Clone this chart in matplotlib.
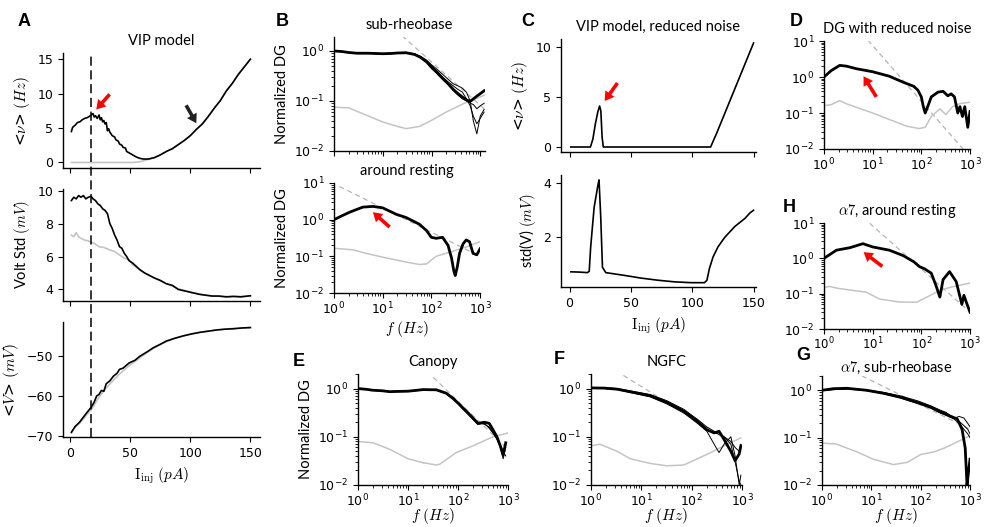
import matplotlib
matplotlib.use("Agg")
import matplotlib.pyplot as plt
import matplotlib.transforms as mtransforms
from matplotlib.lines import Line2D

plt.rcParams["font.family"] = ["DejaVu Sans"]
plt.rcParams["mathtext.fontset"] = "cm"
plt.rcParams["font.size"] = 9
plt.rcParams["axes.linewidth"] = 1.0
plt.rcParams["xtick.labelsize"] = 9
plt.rcParams["ytick.labelsize"] = 9

TEXT_FONT = ["Lato", "DejaVu Sans"]

# ---------------- Panel A: VIP model, full noise ----------------
a_rate_i = [1, 2, 4, 6, 8, 10, 12, 14, 16, 17.5, 19, 20, 21, 22.5, 24, 25, 26, 27, 28, 29, 30, 31,
            32, 33, 35, 37, 38, 40, 41, 43, 44, 46, 47, 49, 50, 52, 55, 58, 61, 65, 70, 75, 80,
            85, 90, 95, 100, 105, 110, 115, 120, 125, 130, 135, 140, 145, 150]
a_rate_full = [4.5, 5.1, 5.4, 5.8, 5.9, 6.2, 6.4, 6.5, 6.7, 6.9, 7.1, 6.6, 6.8, 6.4, 6.9, 6.2, 6.5,
               5.9, 6.1, 5.6, 5.8, 4.6, 4.9, 4.4, 3.9, 3.7, 3.3, 3.1, 2.7, 2.5, 2.2, 2.1, 1.6, 1.4,
               1.3, 1.1, 0.8, 0.6, 0.5, 0.5, 0.7, 1.1, 1.6, 2.0, 2.6, 3.2, 3.9, 4.8, 5.6, 6.7,
               7.9, 9.0, 10.4, 11.5, 12.8, 13.9, 15.0]
a_rate_i_q = [1, 20, 40, 52, 58, 62, 66, 70, 75, 80, 85, 90, 95, 100, 105, 110, 115, 120, 125, 130,
              135, 140, 145, 150]
a_rate_quiet = [0.0, 0.0, 0.0, 0.0, 0.1, 0.3, 0.5, 0.7, 1.1, 1.6, 2.0, 2.6, 3.2, 3.9, 4.8, 5.6, 6.7,
                7.9, 9.0, 10.4, 11.5, 12.8, 13.9, 15.0]

a_std_i = [1, 3, 5, 7, 9, 11, 13, 15, 17.5, 19, 21, 23, 25, 27, 29, 31, 33, 35, 37, 39, 41, 43, 45,
           47, 49, 52, 55, 58, 62, 66, 70, 75, 80, 85, 90, 96, 102, 108, 113, 118, 124, 130, 136,
           142, 150]
a_std_full = [9.4, 9.6, 9.5, 9.7, 9.6, 9.7, 9.5, 9.6, 9.65, 9.5, 9.4, 9.2, 9.1, 8.9, 8.8, 8.6, 8.0,
              7.7, 7.3, 7.0, 6.6, 6.5, 6.2, 6.0, 5.75, 5.6, 5.4, 5.2, 5.0, 4.85, 4.7, 4.55, 4.35,
              4.25, 4.0, 3.9, 3.8, 3.7, 3.65, 3.6, 3.6, 3.55, 3.58, 3.55, 3.62]
a_std_i_q = [1, 3, 5, 7, 9, 12, 15, 17.5, 20, 24, 28, 33, 37, 41, 45, 49, 52, 56, 62, 70, 80, 90,
             102, 113, 124, 136, 150]
a_std_quiet = [7.3, 7.2, 7.45, 7.2, 7.1, 7.0, 6.95, 6.85, 6.8, 6.6, 6.55, 6.4, 6.3, 6.1, 5.9, 5.8,
               5.5, 5.3, 5.0, 4.7, 4.35, 4.05, 3.8, 3.65, 3.58, 3.57, 3.6]

a_v_i = [1, 4, 8, 13, 17.5, 20, 22, 24, 26, 28, 30, 33, 36, 39, 41, 44, 49, 54, 58, 64, 69, 75, 80,
         87, 94, 101, 108, 115, 122, 129, 136, 143, 150]
a_v_full = [-69.1, -67.7, -66.5, -64.5, -62.8, -61.5, -60.0, -59.6, -58.6, -58.8, -56.9, -56.2,
            -55.0, -54.3, -53.3, -53.0, -51.7, -51.0, -50.0, -48.9, -47.9, -47.0, -46.2, -45.5,
            -44.9, -44.4, -44.0, -43.7, -43.4, -43.2, -43.1, -42.9, -42.8]
a_v_quiet = [-69.3, -67.9, -66.8, -65.0, -63.4, -62.3, -61.2, -60.3, -59.5, -58.7, -58.0, -57.0,
             -56.0, -55.1, -54.5, -53.7, -52.4, -51.3, -50.4, -49.1, -48.1, -47.1, -46.3, -45.5,
             -44.9, -44.4, -44.0, -43.7, -43.4, -43.2, -43.0, -42.9, -42.8]

a_marker_i = 17.5

# ---------------- Panel C: VIP model, reduced noise ----------------
c_rate_i = [1, 10, 17, 19, 21, 23, 24.5, 25.5, 26.5, 27.5, 30, 60, 100, 115, 120, 125, 130, 135,
            140, 145, 150]
c_rate = [0.0, 0.0, 0.0, 0.8, 2.3, 3.5, 4.1, 3.6, 1.0, 0.0, 0.0, 0.0, 0.0, 0.0, 1.4, 2.9, 4.4,
          5.9, 7.4, 8.9, 10.4]
c_std_i = [1, 8, 14.5, 16, 17.2, 20, 23, 24, 25.4, 26.8, 29.5, 44.5, 58, 72, 85.5, 99, 110, 112,
           114, 117, 121, 126.5, 134.7, 143, 147, 150]
c_std = [0.73, 0.72, 0.7, 0.75, 1.65, 3.1, 3.9, 4.12, 2.75, 0.9, 0.7, 0.6, 0.5, 0.42, 0.36, 0.33,
         0.33, 0.42, 0.85, 1.28, 1.65, 2.0, 2.4, 2.7, 2.9, 3.0]

# ---------------- Panel B1: sub-rheobase ----------------
b1_f = [1, 1.5, 2, 3, 5, 7, 10, 15, 20, 30, 45, 60, 80, 100, 130, 170, 220, 280, 350, 430, 520,
        620, 720, 850, 1000, 1200]
b1_thick = [1.0, 0.97, 0.93, 0.9, 0.9, 0.89, 0.88, 0.89, 0.91, 0.92, 0.85, 0.74, 0.6, 0.47, 0.37,
            0.28, 0.22, 0.17, 0.14, 0.12, 0.105, 0.098, 0.11, 0.125, 0.14, 0.16]
b1_thin1 = [1.0, 0.97, 0.94, 0.91, 0.9, 0.9, 0.89, 0.9, 0.92, 0.94, 0.88, 0.78, 0.65, 0.53, 0.43,
            0.34, 0.27, 0.22, 0.2, 0.18, 0.15, 0.1, 0.04, 0.022, 0.05, 0.068]
b1_thin2 = [1.0, 0.96, 0.93, 0.9, 0.89, 0.89, 0.88, 0.89, 0.91, 0.92, 0.86, 0.76, 0.62, 0.5, 0.4,
            0.3, 0.24, 0.2, 0.17, 0.15, 0.11, 0.08, 0.05, 0.035, 0.045, 0.06]
b1_thin3 = [1.0, 0.97, 0.93, 0.9, 0.9, 0.88, 0.88, 0.89, 0.9, 0.91, 0.84, 0.73, 0.58, 0.45, 0.35,
            0.27, 0.21, 0.16, 0.13, 0.11, 0.1, 0.09, 0.085, 0.07, 0.08, 0.09]
b1_gray_f = [1, 2, 4.6, 10, 20, 30, 57, 100, 200, 450, 1200]
b1_gray = [0.075, 0.073, 0.052, 0.038, 0.031, 0.028, 0.031, 0.041, 0.06, 0.088, 0.13]
b1_dash_f = [25, 1200]
b1_dash = [2.0, 0.07]

# ---------------- Panel B2: around resting ----------------
b2_f = [1, 1.5, 2.1, 3.9, 6.3, 10, 19, 30, 57, 80, 100, 125, 170, 220, 260, 290, 310, 340, 380,
        450, 520, 610, 720, 860, 1000]
b2_thick = [1.0, 1.3, 1.6, 2.2, 2.3, 2.1, 1.4, 1.15, 0.75, 0.5, 0.33, 0.31, 0.33, 0.2, 0.09, 0.04,
            0.03, 0.05, 0.12, 0.22, 0.28, 0.25, 0.12, 0.11, 0.16]
b2_gray_f = [1, 2.5, 4.6, 10, 30, 57, 80, 125, 240, 520, 1000]
b2_gray = [0.166, 0.15, 0.12, 0.095, 0.07, 0.06, 0.062, 0.1, 0.13, 0.18, 0.25]
b2_dash_f = [1.3, 1000]
b2_dash = [8.0, 0.1]

# ---------------- Panel D: DG with reduced noise ----------------
d_f = [1, 1.4, 2.1, 2.9, 4.6, 10, 22, 42, 70, 85, 100, 110, 120, 135, 160, 220, 280, 350, 410,
       480, 560, 620, 700, 780, 900, 1000]
d_thick = [1.0, 1.5, 2.1, 2.0, 1.7, 1.4, 1.05, 0.72, 0.55, 0.43, 0.28, 0.15, 0.1, 0.15, 0.28,
           0.38, 0.4, 0.3, 0.34, 0.28, 0.1, 0.15, 0.08, 0.15, 0.04, 0.11]
d_gray_f = [1, 1.4, 2.1, 2.9, 10, 22, 50, 90, 120, 160, 240, 320, 440, 600, 1000]
d_gray = [0.16, 0.17, 0.22, 0.18, 0.1, 0.066, 0.043, 0.037, 0.04, 0.08, 0.13, 0.09, 0.15, 0.18,
          0.2]
d_dash_f = [8, 720]
d_dash = [10.5, 0.01]

# ---------------- Panel H: alpha7, around resting ----------------
h_f = [1, 1.8, 3.4, 6.3, 10, 22, 42, 70, 92, 118, 160, 200, 240, 280, 380, 520, 680, 750, 830,
       1000]
h_thick = [1.0, 1.7, 2.0, 2.6, 2.1, 1.7, 1.2, 0.8, 0.58, 0.5, 0.38, 0.17, 0.08, 0.25, 0.42, 0.22,
           0.05, 0.09, 0.06, 0.03]
h_gray_f = [1, 1.3, 2, 7.4, 14, 36, 80, 130, 230, 380, 1000]
h_gray = [0.15, 0.16, 0.14, 0.11, 0.07, 0.058, 0.057, 0.08, 0.12, 0.15, 0.2]
h_dash_f = [8.7, 1000]
h_dash = [9.8, 0.03]

# ---------------- Panel E: Canopy ----------------
e_f = [1, 1.5, 2, 3, 4.3, 6, 10, 15, 20, 37, 58, 80, 100, 130, 170, 250, 340, 420, 500, 600, 700,
       800, 900]
e_thick = [1.0, 0.96, 0.92, 0.9, 0.86, 0.87, 0.88, 0.92, 0.95, 0.94, 0.8, 0.62, 0.5, 0.38, 0.29,
           0.19, 0.2, 0.19, 0.14, 0.1, 0.065, 0.042, 0.075]
e_thin1 = [1.0, 0.95, 0.92, 0.89, 0.87, 0.88, 0.89, 0.92, 0.94, 0.93, 0.82, 0.65, 0.52, 0.4, 0.3,
           0.2, 0.18, 0.16, 0.12, 0.09, 0.07, 0.05, 0.04]
e_thin2 = [1.0, 0.96, 0.93, 0.9, 0.87, 0.86, 0.87, 0.9, 0.93, 0.92, 0.78, 0.6, 0.48, 0.36, 0.27,
           0.18, 0.19, 0.15, 0.12, 0.09, 0.06, 0.035, 0.06]
e_gray_f = [1, 2, 4.3, 10, 20, 37, 43, 92, 200, 500, 1000]
e_gray = [0.08, 0.075, 0.055, 0.035, 0.029, 0.026, 0.027, 0.047, 0.065, 0.1, 0.12]
e_dash_f = [32, 1000]
e_dash = [1.7, 0.055]

# ---------------- Panel F: NGFC ----------------
f_f = [1, 1.8, 3.3, 7, 15, 32, 70, 130, 200, 280, 350, 440, 600, 730, 880, 950]
f_thick = [1.03, 1.02, 0.97, 0.83, 0.71, 0.52, 0.34, 0.21, 0.14, 0.12, 0.13, 0.088, 0.05, 0.032,
           0.044, 0.065]
f_thin1 = [1.0, 1.0, 0.95, 0.8, 0.67, 0.48, 0.31, 0.19, 0.13, 0.07, 0.047, 0.07, 0.1, 0.04, 0.01,
           0.016]
f_thin2 = [1.05, 1.04, 1.0, 0.87, 0.75, 0.56, 0.37, 0.23, 0.16, 0.13, 0.11, 0.1, 0.07, 0.03, 0.012,
           0.01]
f_thin3 = [1.02, 1.01, 0.96, 0.82, 0.7, 0.5, 0.33, 0.2, 0.14, 0.12, 0.12, 0.1, 0.08, 0.06, 0.05,
           0.07]
f_gray_f = [1, 1.5, 3.3, 6, 15, 32, 70, 130, 240, 440, 950]
f_gray = [0.065, 0.07, 0.05, 0.035, 0.028, 0.025, 0.026, 0.035, 0.047, 0.065, 0.095]
f_dash_f = [4.4, 400]
f_dash = [1.87, 0.1]

# ---------------- Panel G: alpha7, sub-rheobase ----------------
g_f = [1, 1.7, 3.2, 8, 18, 39, 86, 160, 250, 400, 550, 690, 800, 870, 940, 1000]
g_thick = [1.0, 1.08, 1.1, 1.0, 0.86, 0.71, 0.55, 0.44, 0.35, 0.28, 0.25, 0.15, 0.06, 0.01, 0.02,
           0.035]
g_thin_f = [1, 3.2, 8, 18, 39, 86, 160, 250, 330, 450, 600, 750, 900, 1000]
g_thin1 = [1.0, 1.08, 1.02, 0.9, 0.76, 0.6, 0.47, 0.38, 0.34, 0.25, 0.28, 0.26, 0.2, 0.17]
g_thin2 = [1.0, 1.1, 1.0, 0.87, 0.72, 0.57, 0.45, 0.37, 0.33, 0.28, 0.22, 0.18, 0.15, 0.12]
g_thin3 = [1.0, 1.06, 0.98, 0.84, 0.69, 0.53, 0.42, 0.33, 0.3, 0.26, 0.2, 0.15, 0.12, 0.1]
g_gray_f = [1, 1.9, 5.1, 11, 28, 53, 100, 185, 300, 470, 1000]
g_gray = [0.076, 0.074, 0.05, 0.035, 0.027, 0.03, 0.044, 0.05, 0.06, 0.075, 0.11]
g_dash_f = [6.5, 1000]
g_dash = [2.0, 0.15]

FIG_W, FIG_H = 984, 527
fig = plt.figure(figsize=(FIG_W / 100, FIG_H / 100), dpi=100)


def add_ax(left, top, right, bottom):
    """Add axes from a pixel box (origin top-left)."""
    ax = fig.add_axes([left / FIG_W, 1 - bottom / FIG_H, (right - left) / FIG_W,
                       (bottom - top) / FIG_H])
    ax.spines["top"].set_visible(False)
    ax.spines["right"].set_visible(False)
    return ax


def panel_letter(x, y, s):
    fig.text(x / FIG_W, 1 - y / FIG_H, s, fontsize=13, fontweight="bold",
             family=["Liberation Sans", "DejaVu Sans"], va="center", ha="left")


def title(ax, s, pad=6):
    ax.set_title(s, fontsize=10.5, family=TEXT_FONT, pad=pad)


def arrow(ax, tip, tail, color="red"):
    ax.annotate("", xy=tip, xytext=tail,
                arrowprops=dict(facecolor=color, edgecolor="none", width=2.6,
                                headwidth=8, headlength=6.5, shrink=0))


GRAY = "#c4c4c4"
DASH = "#b5b5b5"


def dg_panel(ax, f, thick, gray_f, gray, dash_f, dash, thins=(), ylim=(0.01, 2.0),
             xlim=(1, 1000)):
    ax.set_xscale("log")
    ax.set_yscale("log")
    ax.plot(dash_f, dash, color=DASH, lw=0.9, ls=(0, (4, 3)))
    ax.plot(gray_f, gray, color=GRAY, lw=1.1)
    for tf, ty in thins:
        ax.plot(tf, ty, color="black", lw=0.7)
    ax.plot(f, thick, color="black", lw=2.0)
    ax.set_xlim(*xlim)
    ax.set_ylim(*ylim)
    ax.tick_params(which="minor", length=2)
    ax.tick_params(axis="x", pad=2)


# ---------------- Panel A ----------------
axA1 = add_ax(63, 53, 260, 168)
axA2 = add_ax(63, 189, 260, 301)
axA3 = add_ax(63, 322, 260, 437)

axA1.plot(a_rate_i_q, a_rate_quiet, color=GRAY, lw=1.2)
axA1.plot(a_rate_i, a_rate_full, color="black", lw=1.2)
axA1.set_ylim(-0.8, 15.9)
axA1.set_yticks([0, 5, 10, 15])
axA1.set_ylabel(r"<$\nu$> $(Hz)$", fontsize=11)
arrow(axA1, (21.7, 7.7), (32.8, 9.9), "red")
arrow(axA1, (105, 5.7), (96.5, 8.3), "#222222")

axA2.plot(a_std_i_q, a_std_quiet, color=GRAY, lw=1.2)
axA2.plot(a_std_i, a_std_full, color="black", lw=1.2)
axA2.set_ylim(3.3, 10.1)
axA2.set_yticks([4, 6, 8, 10])
axA2.set_ylabel(r"Volt Std $(mV)$", fontsize=10.5, family=TEXT_FONT)

axA3.plot(a_v_i, a_v_quiet, color=GRAY, lw=1.2)
axA3.plot(a_v_i, a_v_full, color="black", lw=1.2)
axA3.set_ylim(-70.3, -41.4)
axA3.set_yticks([-70, -60, -50])
axA3.set_ylabel(r"<$V$> $(mV)$", fontsize=11)
axA3.set_xlabel(r"$\mathrm{I_{inj}}\ (pA)$", fontsize=11)

for ax in (axA1, axA2, axA3):
    ax.set_xlim(-6, 158)
    ax.set_xticks([0, 50, 100, 150])
for ax in (axA1, axA2):
    ax.tick_params(axis="x", labelbottom=False)
title(axA1, "VIP model")

trans = mtransforms.blended_transform_factory(axA3.transData, fig.transFigure)
y_low = axA3.get_position().y0
y_high = axA1.get_position().y1
fig.add_artist(Line2D([a_marker_i, a_marker_i], [y_low, y_high], transform=trans,
                      color="black", lw=1.1, ls=(0, (6, 3))))

# ---------------- Panel B ----------------
axB1 = add_ax(334, 37, 485, 151)
dg_panel(axB1, b1_f, b1_thick, b1_gray_f, b1_gray, b1_dash_f, b1_dash,
         thins=[(b1_f, b1_thin1), (b1_f, b1_thin2), (b1_f, b1_thin3)],
         ylim=(0.01, 1.9), xlim=(1, 1250))
axB1.tick_params(axis="x", which="both", labelbottom=False)
axB1.set_ylabel("Normalized DG", fontsize=10.5, family=TEXT_FONT)
title(axB1, "sub-rheobase")

axB2 = add_ax(334, 183, 480, 293)
dg_panel(axB2, b2_f, b2_thick, b2_gray_f, b2_gray, b2_dash_f, b2_dash, ylim=(0.01, 10))
axB2.set_ylabel("Normalized DG", fontsize=10.5, family=TEXT_FONT)
axB2.set_xlabel(r"$f\ (Hz)$", fontsize=11, labelpad=1)
title(axB2, "around resting")
arrow(axB2, (6.3, 1.6), (13.9, 0.63))

# ---------------- Panel C ----------------
axC1 = add_ax(561, 39, 756, 152)
axC1.plot(c_rate_i, c_rate, color="black", lw=1.2)
axC1.set_ylim(-0.5, 10.8)
axC1.set_yticks([0, 5, 10])
axC1.set_ylabel(r"<$\nu$> $(Hz)$", fontsize=11)
arrow(axC1, (28.6, 4.6), (39, 6.4))
title(axC1, "VIP model, reduced noise")

axC2 = add_ax(561, 175, 756, 287)
axC2.plot(c_std_i, c_std, color="black", lw=1.2)
axC2.set_ylim(0.17, 4.3)
axC2.set_yticks([2, 4])
axC2.set_ylabel(r"std(V) $(mV)$", fontsize=10.5, family=TEXT_FONT)
axC2.set_xlabel(r"$\mathrm{I_{inj}}\ (pA)$", fontsize=11)
for ax in (axC1, axC2):
    ax.set_xlim(-7, 152)
    ax.set_xticks([0, 50, 100, 150])
axC1.tick_params(axis="x", labelbottom=False)

# ---------------- Panel D ----------------
axD = add_ax(824, 41, 970, 149)
dg_panel(axD, d_f, d_thick, d_gray_f, d_gray, d_dash_f, d_dash, ylim=(0.01, 10))
title(axD, "DG with reduced noise")
arrow(axD, (6.5, 1.05), (11.9, 0.28))

# ---------------- Panel H ----------------
axH = add_ax(824, 223, 970, 329)
dg_panel(axH, h_f, h_thick, h_gray_f, h_gray, h_dash_f, h_dash, ylim=(0.01, 10))
axH.tick_params(axis="x", pad=1, labelsize=8.5)
title(axH, r"$\alpha7$, around resting")
arrow(axH, (6.5, 1.5), (15.8, 0.59))

# ---------------- Panels E, F, G ----------------
axE = add_ax(358, 374, 508, 485)
dg_panel(axE, e_f, e_thick, e_gray_f, e_gray, e_dash_f, e_dash,
         thins=[(e_f, e_thin1), (e_f, e_thin2)])
axE.set_ylabel("Normalized DG", fontsize=10.5, family=TEXT_FONT)
title(axE, "Canopy")

axF = add_ax(591, 374, 742, 485)
dg_panel(axF, f_f, f_thick, f_gray_f, f_gray, f_dash_f, f_dash,
         thins=[(f_f, f_thin1), (f_f, f_thin2), (f_f, f_thin3)])
title(axF, "NGFC")

axG = add_ax(822, 376, 970, 485)
dg_panel(axG, g_f, g_thick, g_gray_f, g_gray, g_dash_f, g_dash,
         thins=[(g_thin_f, g_thin1), (g_thin_f, g_thin2), (g_thin_f, g_thin3)])
title(axG, r"$\alpha7$, sub-rheobase", pad=3)

for ax in (axE, axF, axG):
    ax.set_xlabel(r"$f\ (Hz)$", fontsize=11, labelpad=-2)

# panel letters
panel_letter(18, 22, "A")
panel_letter(276, 22, "B")
panel_letter(521, 22, "C")
panel_letter(790, 22, "D")
panel_letter(783, 207, "H")
panel_letter(293, 362, "E")
panel_letter(554, 360, "F")
panel_letter(796, 356, "G")

fig.savefig("out.png", dpi=100)
